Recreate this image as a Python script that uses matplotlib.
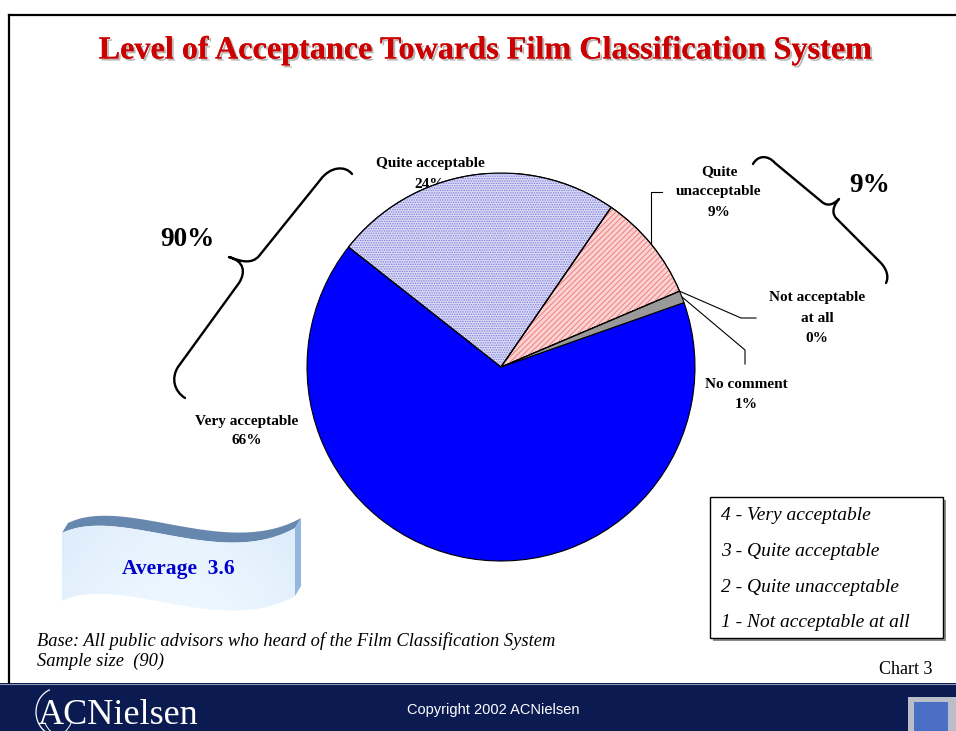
import numpy as np
import matplotlib
matplotlib.use('Agg')
import matplotlib.pyplot as plt
import matplotlib.patheffects as pe
from matplotlib.path import Path
from matplotlib.patches import PathPatch, Rectangle, Polygon, Arc, Wedge

plt.rcParams['font.family'] = ['Liberation Serif', 'DejaVu Serif']
plt.rcParams['hatch.linewidth'] = 0.7

# data
categories = ['Very acceptable', 'Quite acceptable', 'Quite unacceptable',
              'Not acceptable at all', 'No comment']
shares = [66, 24, 9, 0, 1]
label_lines = ['Very acceptable\n66%', 'Quite acceptable\n24%', 'Quite\nunacceptable\n9%',
               'Not acceptable\nat all\n0%', 'No comment\n1%']
scale_items = ['4 - Very acceptable', '3 - Quite acceptable',
               '2 - Quite unacceptable', '1 - Not acceptable at all']
acceptable_total = '90%'
unacceptable_total = '9%'
average_text = 'Average  3.6'

W, H = 956, 731
fig = plt.figure(figsize=(W / 100, H / 100), dpi=100)
fig.patch.set_facecolor('white')

# background axes in pixel coords
bg = fig.add_axes([0, 0, 1, 1])
bg.set_xlim(0, W)
bg.set_ylim(H, 0)
bg.axis('off')

# pie axes
cx, cy, r = 501, 367, 194
pie_ax = fig.add_axes([(cx - r) / W, (H - cy - r) / H, 2 * r / W, 2 * r / H])
colors = ['#0000ff', '#dcdcf6', '#fcd2d2', '#ffffff', '#999999']
wedges, _ = pie_ax.pie(shares, colors=colors, startangle=19.4, counterclock=False,
                       wedgeprops=dict(edgecolor='black', linewidth=0.8))
pie_ax.set_xlim(-1, 1)
pie_ax.set_ylim(-1, 1)
pie_ax.axis('off')

# textures on the two lighter slices
hatches = {1: ('.......', '#7c7cdc'), 2: ('//////', '#ee8080')}
for i, (h, hc) in hatches.items():
    w = wedges[i]
    pie_ax.add_patch(Wedge(w.center, w.r, w.theta1, w.theta2, facecolor='none',
                           edgecolor=hc, hatch=h, linewidth=0, zorder=2))
    pie_ax.add_patch(Wedge(w.center, w.r, w.theta1, w.theta2, facecolor='none',
                           edgecolor='black', linewidth=0.8, zorder=3))


def edge_point(w, frac=0.5, rad=1.0):
    ang = np.deg2rad(w.theta1 + (w.theta2 - w.theta1) * frac)
    return cx + rad * r * np.cos(ang), cy - rad * r * np.sin(ang)


# frame lines
bg.plot([9, W], [15, 15], color='black', lw=1.6)
bg.plot([9, 9], [15, 683], color='black', lw=1.6)

# title with shadow
title = 'Level of Acceptance Towards Film Classification System'
bg.text(486, 51, title, ha='center', va='center', fontsize=23.2,
        fontweight='bold', color='#cc0000',
        path_effects=[pe.withSimplePatchShadow(offset=(1.5, -1.5),
                                               shadow_rgbFace='#9a9a9a', alpha=0.7),
                      pe.Normal()])

# slice labels
lbl_kw = dict(ha='center', va='center', fontsize=11, fontweight='bold',
              linespacing=1.7, color='black')
label_pos = [(247, 431), (430, 174), (719, 192), (817, 318), (746, 394)]
for txt, (x, y) in zip(label_lines, label_pos):
    bg.text(x, y, txt, **lbl_kw)

# leader lines
px, py = edge_point(wedges[2], 0.5)
bg.plot([px, px, 662], [py, 192, 192], color='black', lw=0.8)
px, py = edge_point(wedges[3], 0.5)
bg.plot([px, 741, 756], [py, 318, 318], color='black', lw=0.8)
px, py = edge_point(wedges[4], 0.5)
bg.plot([px, 745, 745], [py, 350, 364], color='black', lw=0.8)

# braces
C4, L2, M = Path.CURVE4, Path.LINETO, Path.MOVETO
left_brace = Path(
    [(352, 174), (345, 165), (330, 167), (321, 179), (259, 256),
     (252, 264), (242, 262), (229, 257),
     (244, 261), (246, 272), (239, 283), (178, 367),
     (171, 378), (174, 391), (185, 398)],
    [M, C4, C4, C4, L2, C4, C4, C4, C4, C4, C4, L2, C4, C4, C4])
right_brace = Path(
    [(753, 164), (758, 155), (768, 155), (775, 163), (822, 202),
     (828, 207), (834, 204), (839, 199),
     (834, 205), (831, 212), (836, 218), (880, 262),
     (887, 269), (889, 277), (886, 283)],
    [M, C4, C4, C4, L2, C4, C4, C4, C4, C4, C4, L2, C4, C4, C4])
for p in (left_brace, right_brace):
    bg.add_patch(PathPatch(p, facecolor='none', edgecolor='black', lw=1.7,
                           capstyle='round', joinstyle='round'))
bg.text(187, 240, acceptable_total, ha='center', va='center', fontsize=19.5,
        fontweight='bold')
bg.text(870, 186, unacceptable_total, ha='center', va='center', fontsize=19.5,
        fontweight='bold')

# scale legend box
bg.add_patch(Rectangle((713, 500), 233, 141, facecolor='#8c8c8c', edgecolor='none'))
bg.add_patch(Rectangle((710, 497), 233, 141, facecolor='white', edgecolor='black', lw=1))
for i, s in enumerate(scale_items):
    bg.text(721, 516 + i * 35.5, s, ha='left', va='center', fontsize=14,
            fontstyle='italic')

# wavy "Average" banner
t = np.linspace(0, 1, 120)[:, None]
P = np.array([(62, 533), (120, 505), (220, 570), (295, 528)], float)
curve = ((1 - t) ** 3 * P[0] + 3 * (1 - t) ** 2 * t * P[1]
         + 3 * (1 - t) * t ** 2 * P[2] + t ** 3 * P[3])
top = curve
bottom = curve + np.array([0, 68])
back = curve + np.array([6, -10])
bg.add_patch(Polygon(np.vstack([top, back[::-1]]), closed=True,
                     facecolor='#6688ae', edgecolor='none'))
bg.add_patch(Polygon([top[-1], back[-1], back[-1] + [0, 68], bottom[-1]],
                     closed=True, facecolor='#92b6de', edgecolor='none'))
front = Polygon(np.vstack([top, bottom[::-1]]), closed=True, facecolor='none',
                edgecolor='none')
bg.add_patch(front)
gx = np.linspace(0, 1, 64)
gy = np.linspace(0, 1, 64)
GX, GY = np.meshgrid(gx, gy)
shade = 0.55 + 0.45 * (0.5 * GY + 0.5 * np.sin(GX * np.pi))
grad = np.dstack([0.78 + 0.15 * shade, 0.86 + 0.11 * shade,
                  0.96 + 0.04 * shade])
im = bg.imshow(np.clip(grad, 0, 1), extent=[62, 296, 612, 505], aspect='auto',
               interpolation='bilinear', zorder=1)
im.set_clip_path(front)
bg.text(178, 569, average_text, ha='center', va='center', fontsize=15.5,
        fontweight='bold', color='#0000cc', zorder=3)

# footnotes
bg.text(37, 641, 'Base: All public advisors who heard of the Film Classification System',
        ha='left', va='center', fontsize=13.3, fontstyle='italic')
bg.text(37, 661, 'Sample size  (90)', ha='left', va='center', fontsize=13.3,
        fontstyle='italic')
bg.text(933, 670, 'Chart 3', ha='right', va='center', fontsize=13)

# footer band
bg.add_patch(Rectangle((0, 683), W, 48, facecolor='#0b1b52', edgecolor='none'))
bg.plot([0, W], [683.5, 683.5], color='#8a93b0', lw=0.8)
bg.text(493, 710, 'Copyright 2002 ACNielsen', ha='center', va='center',
        fontsize=10.5, color='white', family=['Liberation Sans', 'DejaVu Sans'])
bg.text(38, 716, 'ACNielsen', ha='left', va='center', fontsize=26, color='white')
bg.add_patch(Arc((58, 712), 44, 48, theta1=100, theta2=250, color='white', lw=0.9))
bg.add_patch(Arc((58, 712), 30, 44, theta1=40, theta2=140, color='white', lw=0.7))
bg.add_patch(Rectangle((908, 697), 48, 34, facecolor='#b9bec8', edgecolor='none'))
bg.add_patch(Rectangle((914, 702), 34, 29, facecolor='#4a6fc4', edgecolor='none'))

fig.savefig('out.png', dpi=100, facecolor='white')
